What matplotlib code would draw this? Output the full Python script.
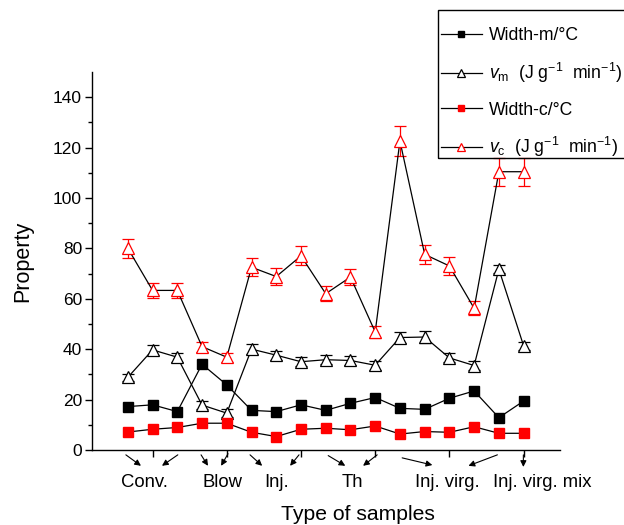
"""Thermal property vs. sample type: peak widths and rates (m = melting, c = crystallisation)."""

import matplotlib

matplotlib.use("Agg")
import matplotlib.pyplot as plt
import numpy as np
from matplotlib.patches import Rectangle

plt.rcParams["font.family"] = ["Liberation Sans", "DejaVu Sans"]
plt.rcParams["mathtext.fontset"] = "custom"
plt.rcParams["mathtext.rm"] = "Liberation Sans"
plt.rcParams["mathtext.it"] = "Liberation Sans:italic"

# sample index along x (17 samples, groups of three)
samples = np.arange(1, 18)

width_m = [17.2, 17.9, 15.2, 34.0, 25.8, 15.7, 15.2, 17.9, 15.7, 18.5,
           20.8, 16.5, 16.1, 20.5, 23.4, 12.8, 19.4]
v_m = [28.8, 39.7, 36.8, 17.8, 14.6, 40.0, 37.6, 35.0, 35.8, 35.5,
       33.6, 44.6, 44.8, 36.5, 33.5, 71.7, 41.3]
v_m_err = [1.5, 2.0, 1.8, 1.5, 1.5, 2.0, 1.8, 1.8, 1.8, 1.8,
           1.7, 2.2, 2.2, 1.8, 1.7, 1.5, 1.5]
width_c = [7.1, 8.2, 8.9, 10.6, 10.6, 7.0, 5.3, 8.2, 8.6, 8.0,
           9.5, 6.3, 7.3, 7.0, 9.2, 6.6, 6.6]
v_c = [80.0, 63.3, 63.3, 41.0, 36.8, 72.5, 68.8, 77.0, 62.0, 68.6,
       46.8, 122.6, 77.6, 73.0, 56.2, 110.4, 110.4]
v_c_err = [3.8, 3.0, 3.0, 2.0, 1.8, 3.5, 3.3, 3.8, 3.0, 3.3,
           2.3, 6.0, 3.8, 3.5, 2.8, 5.5, 5.5]

group_ticks = [2, 5, 8, 11, 14, 17]
group_names = ["Conv.", "Blow", "Inj.", "Th", "Inj. virg.", "Inj. virg. mix"]

fig = plt.figure(figsize=(6.24, 5.25), dpi=100)
ax = fig.add_axes([0.147, 0.143, 0.75, 0.72])

line_kw = dict(color="black", lw=0.9)
h1, = ax.plot(samples, width_m, marker="s", ms=6.5, mfc="black", mec="black",
              label="Width-m/°C", **line_kw)
ax.errorbar(samples, v_m, yerr=v_m_err, fmt="none", ecolor="black",
            elinewidth=0.9, capsize=4, capthick=0.9)
h2, = ax.plot(samples, v_m, marker="^", ms=9, mfc="white", mec="black", mew=0.9,
              label=r"$v_{\mathrm{m}}$  (J g$^{-1}$  min$^{-1}$)", **line_kw)
h3, = ax.plot(samples, width_c, marker="s", ms=6.5, mfc="red", mec="red",
              label="Width-c/°C", **line_kw)
ax.errorbar(samples, v_c, yerr=v_c_err, fmt="none", ecolor="red",
            elinewidth=0.9, capsize=4, capthick=0.9)
h4, = ax.plot(samples, v_c, marker="^", ms=9, mfc="white", mec="red", mew=0.9,
              label=r"$v_{\mathrm{c}}$  (J g$^{-1}$  min$^{-1}$)", **line_kw)

ax.set_xlim(-0.46, 18.46)
ax.set_ylim(0, 150)
ax.spines["top"].set_visible(False)
ax.spines["right"].set_visible(False)
for side in ("left", "bottom"):
    ax.spines[side].set_linewidth(1.0)

ax.set_xticks(group_ticks)
ax.set_xticklabels([])
ax.set_yticks(np.arange(0, 141, 20))
ax.set_yticks(np.arange(10, 150, 20), minor=True)
ax.tick_params(axis="both", direction="out", length=5, width=1.0, labelsize=12.5, pad=2)
ax.tick_params(axis="y", which="minor", direction="out", length=3, width=1.0)
ax.set_ylabel("Property", fontsize=15.5, labelpad=14)

# group labels with arrows pointing from the samples down to the name
arrows = [
    ((0.92, 1.53), (-0.013, -0.042)), ((3.02, 2.38), (-0.013, -0.042)),
    ((3.96, 4.24), (-0.013, -0.042)), ((5.05, 4.77), (-0.010, -0.042)),
    ((5.94, 6.43), (-0.013, -0.042)), ((7.92, 7.56), (-0.013, -0.042)),
    ((9.10, 9.79), (-0.015, -0.042)), ((11.08, 10.51), (-0.013, -0.042)),
    ((12.09, 13.31), (-0.021, -0.040)), ((15.94, 14.77), (-0.013, -0.042)),
    ((16.99, 16.99), (-0.013, -0.045)),
]
for (x0, x1), (y0, y1) in arrows:
    ax.annotate("", xy=(x1, y1), xytext=(x0, y0),
                xycoords=("data", "axes fraction"), textcoords=("data", "axes fraction"),
                arrowprops=dict(arrowstyle="-|>", color="black", lw=0.8,
                                mutation_scale=9, shrinkA=0, shrinkB=0),
                annotation_clip=False)

label_x = [1.69, 4.81, 7.03, 10.07, 13.91, 17.76]
for x, name in zip(label_x, group_names):
    ax.text(x, -0.085, name, transform=ax.get_xaxis_transform(), ha="center",
            va="center", fontsize=13.3)
fig.text(358 / 624, 1 - 515 / 525, "Type of samples", ha="center", va="center",
         fontsize=15.2)

# legend entries without frame; the box runs off the right edge like the original
leg = fig.legend(handles=[h1, h2, h3, h4], loc="upper left",
                 bbox_to_anchor=(441 / 624, 1 - 27 / 525), fontsize=12.7,
                 frameon=False, markerscale=0.65, handlelength=2.3,
                 handletextpad=0.4, borderpad=0.0, labelspacing=0.95,
                 borderaxespad=0)
fig.patches.append(Rectangle((438 / 624, 1 - 158 / 525), 200 / 624, 148 / 525,
                             transform=fig.transFigure, fill=False,
                             edgecolor="black", lw=1.0))

fig.savefig("out.png", dpi=100)
